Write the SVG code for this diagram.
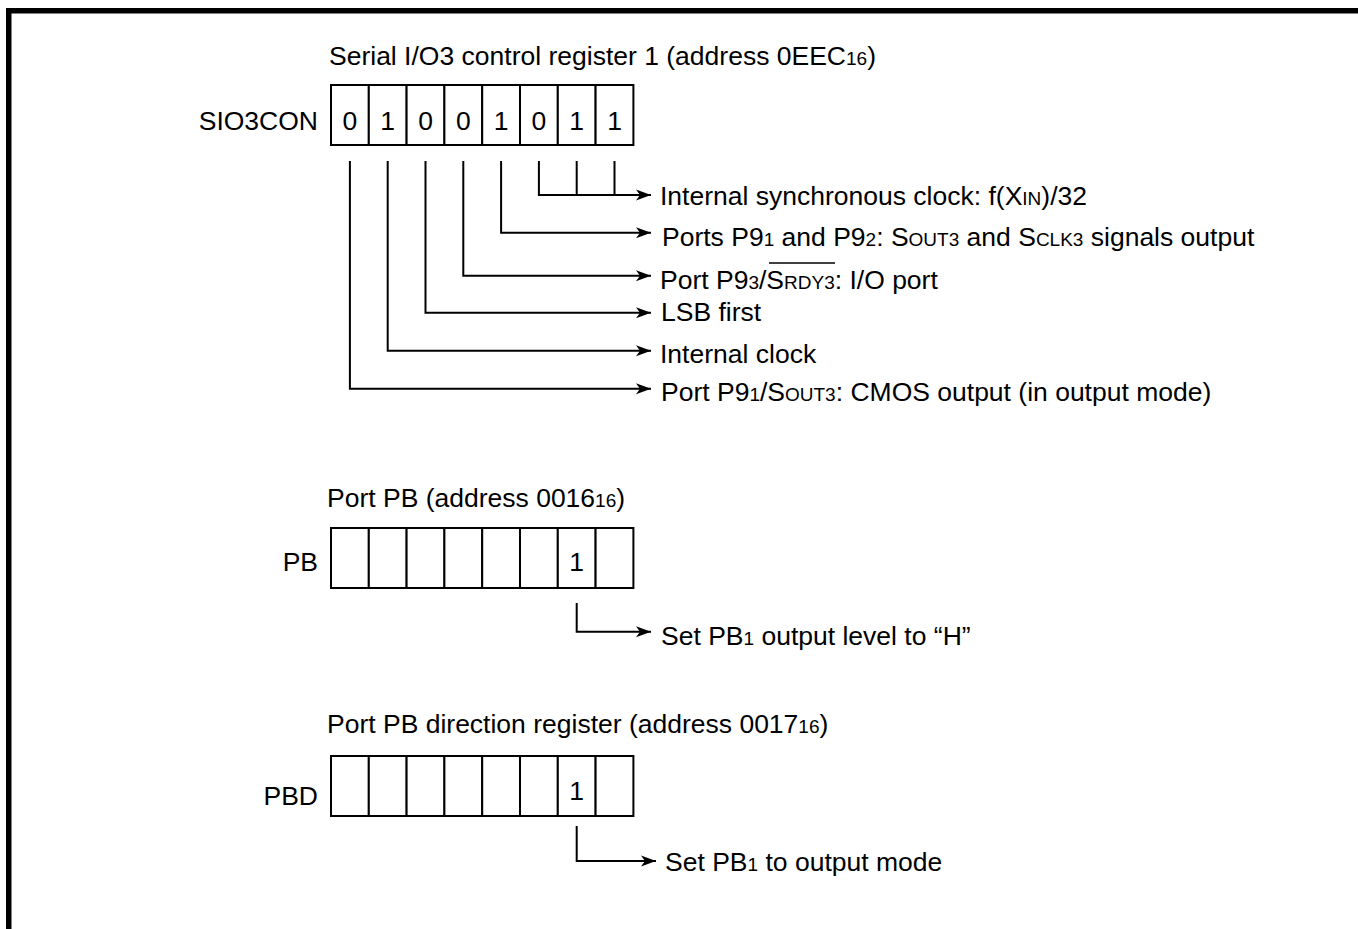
<svg xmlns="http://www.w3.org/2000/svg" width="1358" height="929" viewBox="0 0 1358 929">
<style>
text{font-family:"Liberation Sans",Arial,Helvetica,sans-serif;font-size:26.5px;fill:#000}
.s{font-size:19px}
.c{text-anchor:middle}
.e{text-anchor:end}
.box{fill:#fff;stroke:#000;stroke-width:2}
.ln{fill:none;stroke:#000;stroke-width:2}
.ar{fill:none;stroke:#000;stroke-width:2;marker-end:url(#ah)}
</style>
<defs>
<marker id="ah" markerUnits="userSpaceOnUse" markerWidth="16" markerHeight="12" refX="15" refY="6" orient="auto">
<path d="M0,0.5 L15,6 L0,11.5 L4,6 z" fill="#000"/>
</marker>
<g id="cells">
<rect class="box" x="0" y="0" width="37.8" height="60"/>
<rect class="box" x="37.8" y="0" width="37.8" height="60"/>
<rect class="box" x="75.6" y="0" width="37.8" height="60"/>
<rect class="box" x="113.4" y="0" width="37.8" height="60"/>
<rect class="box" x="151.2" y="0" width="37.8" height="60"/>
<rect class="box" x="189" y="0" width="37.8" height="60"/>
<rect class="box" x="226.8" y="0" width="37.8" height="60"/>
<rect class="box" x="264.6" y="0" width="37.8" height="60"/>
</g>
</defs>
<rect width="1358" height="929" fill="#fff"/>
<path d="M8.75,929 V10.75 H1358" fill="none" stroke="#000" stroke-width="5.5"/>

<g id="sio3con">
<text x="329" y="64.5">Serial I/O3 control register 1 (address 0EEC<tspan class="s">16</tspan>)</text>
<text class="e" x="318" y="129.5">SIO3CON</text>
<use href="#cells" x="331" y="85"/>
<text class="c" x="349.9" y="129.5">0</text>
<text class="c" x="387.7" y="129.5">1</text>
<text class="c" x="425.5" y="129.5">0</text>
<text class="c" x="463.3" y="129.5">0</text>
<text class="c" x="501.1" y="129.5">1</text>
<text class="c" x="538.9" y="129.5">0</text>
<text class="c" x="576.7" y="129.5">1</text>
<text class="c" x="614.5" y="129.5">1</text>
</g>

<g id="labels-sio3con">
<text x="660" y="204.5">Internal synchronous clock: f(X<tspan class="s">IN</tspan>)/32</text>
<text x="662" y="245.5">Ports P9<tspan class="s">1</tspan> and P9<tspan class="s">2</tspan>: S<tspan class="s">OUT3</tspan> and S<tspan class="s">CLK3</tspan> signals output</text>
<text x="660" y="288.5">Port P9<tspan class="s">3</tspan>/S<tspan class="s">RDY3</tspan>: I/O port</text>
<line x1="769" y1="263" x2="835" y2="263" stroke="#000" stroke-width="1.5"/>
<text x="661" y="320.5">LSB first</text>
<text x="660" y="362.5">Internal clock</text>
<text x="661" y="400.5">Port P9<tspan class="s">1</tspan>/S<tspan class="s">OUT3</tspan>: CMOS output (in output mode)</text>
</g>

<g id="pb">
<text x="327" y="506.5">Port PB (address 0016<tspan class="s">16</tspan>)</text>
<text class="e" x="318" y="570.5">PB</text>
<use href="#cells" x="331" y="528"/>
<text class="c" x="576.7" y="570.5">1</text>
<text x="661" y="644.5">Set PB<tspan class="s">1</tspan> output level to “H”</text>
</g>

<g id="pbd">
<text x="327" y="733">Port PB direction register (address 0017<tspan class="s">16</tspan>)</text>
<text class="e" x="318" y="805">PBD</text>
<use href="#cells" x="331" y="756"/>
<text class="c" x="576.7" y="800">1</text>
<text x="665" y="871">Set PB<tspan class="s">1</tspan> to output mode</text>
</g>

<g id="connectors">
<path class="ln" d="M576.7,161 V195 M614.5,161 V195"/>
<path class="ar" d="M538.9,161 V195 H651"/>
<path class="ar" d="M501.1,161 V232.7 H651"/>
<path class="ar" d="M463.3,161 V275.7 H651"/>
<path class="ar" d="M425.5,161 V312.7 H651"/>
<path class="ar" d="M387.7,161 V350.7 H651"/>
<path class="ar" d="M349.9,161 V388.7 H651"/>
<path class="ar" d="M576.7,603 V631.7 H651"/>
<path class="ar" d="M576.7,826 V861 H656"/>
</g>
</svg>
